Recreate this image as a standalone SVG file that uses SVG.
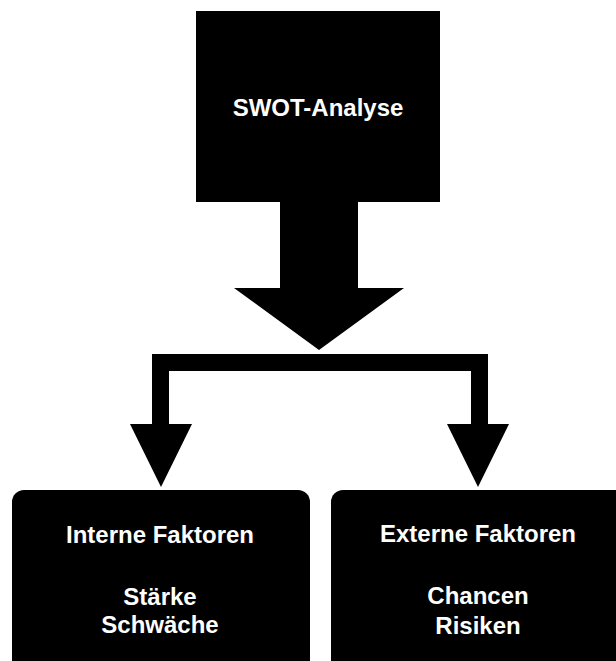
<svg xmlns="http://www.w3.org/2000/svg" width="616" height="661" viewBox="0 0 616 661">
<style>
.box{fill:#000;}
.t{fill:#fff;font-family:"Liberation Sans",Arial,sans-serif;font-size:24px;font-weight:bold;text-anchor:middle;}
.c{fill:#000;}
</style>
<rect width="616" height="661" fill="#fff"/>
<g id="swot">
<rect class="box" x="196" y="11" width="244" height="191"/>
<text class="t" x="318" y="116">SWOT-Analyse</text>
</g>
<g id="connectors">
<polygon class="c" points="280,202 358,202 358,288 404,288 319,350 234,288 280,288"/>
<polygon class="c" points="152,354 488,354 488,424 509,424 478,487 447,424 471,424 471,371 169,371 169,424 192,424 161,487 130,424 152,424"/>
</g>
<g id="intern">
<rect class="box" x="12" y="490" width="298" height="190" rx="12"/>
<text class="t" x="160" y="543">Interne Faktoren</text>
<text class="t" x="160" y="605">Stärke</text>
<text class="t" x="160" y="633">Schwäche</text>
</g>
<g id="extern">
<rect class="box" x="331" y="490" width="300" height="190" rx="12"/>
<text class="t" x="478" y="542">Externe Faktoren</text>
<text class="t" x="478" y="604">Chancen</text>
<text class="t" x="478" y="634">Risiken</text>
</g>
</svg>
